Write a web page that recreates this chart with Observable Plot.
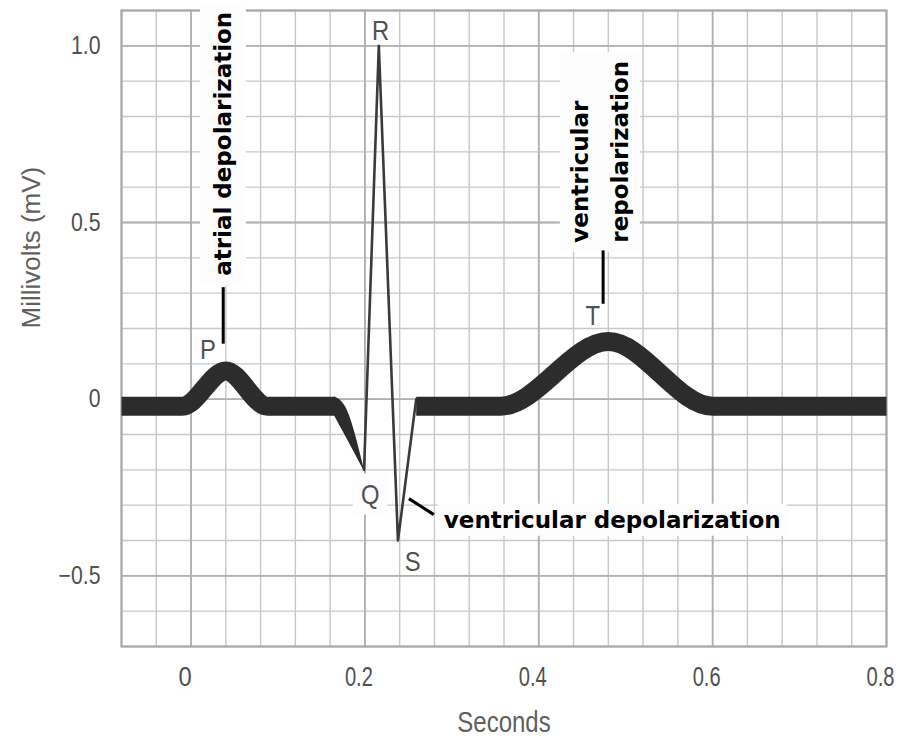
<!DOCTYPE html>
<html>
<head>
<meta charset="utf-8">
<script src="https://cdn.jsdelivr.net/npm/d3@7"></script>
<script src="https://cdn.jsdelivr.net/npm/@observablehq/plot@0.6"></script>
<style>
  body { margin: 0; background: #ffffff; }
  #chart svg { display: block; }
</style>
</head>
<body>
<div id="chart"></div>
<script>
// ---------- data ----------
// thick trace, baseline + P wave (seconds, millivolts)
const pSegmentSeconds = [-0.08, -0.01, 0.04, 0.088, 0.165];
const pSegmentMv      = [-0.02, -0.02, 0.08, -0.02, -0.02];
// tapering descent into Q (upper and lower edge of the band)
const qTaperSeconds = [0.165, 0.178, 0.199];
const qTaperUpperMv = [0.007, -0.023, -0.197];
const qTaperLowerMv = [-0.047, -0.106, -0.203];
// thin QRS complex
const qrsSeconds = [0.199, 0.216, 0.238, 0.259];
const qrsMv      = [-0.20, 1.00, -0.40, 0.00];
// thick trace, baseline + T wave
const tSegmentSeconds = [0.259, 0.356, 0.48, 0.60, 0.80];
const tSegmentMv      = [-0.02, -0.02, 0.163, -0.02, -0.02];

// wave letters
const waveLetters   = ["P", "Q", "R", "S", "T"];
const letterSeconds = [0.0195, 0.206, 0.218, 0.255, 0.462];
const letterMv      = [0.138, -0.27, 1.041, -0.46, 0.236];

// callouts
const calloutTexts   = ["atrial depolarization", "ventricular", "repolarization", "ventricular depolarization"];
const calloutSeconds = [0.0374, 0.448, 0.494, 0.2908];
const calloutMv      = [0.349, 0.443, 0.443, -0.343];
const calloutRotate  = [-90, -90, -90, 0];

// leader lines
const leaderX1 = [0.037, 0.474, 0.2506];
const leaderY1 = [0.317, 0.421, -0.2815];
const leaderX2 = [0.037, 0.474, 0.2793];
const leaderY2 = [0.157, 0.270, -0.3268];

// axes
const xTickValues = [0, 0.2, 0.4, 0.6, 0.8];
const xTickLabels = ["0", "0.2", "0.4", "0.6", "0.8"];
const yTickValues = [1.0, 0.5, 0, -0.5];
const yTickLabels = ["1.0", "0.5", "0", "\u22120.5"];
const xTitle = "Seconds";
const yTitle = "Millivolts (mV)";

// ---------- tables built from the arrays ----------
const pSegment = pSegmentSeconds.map((t, i) => ({t, mv: pSegmentMv[i]}));
const tSegment = tSegmentSeconds.map((t, i) => ({t, mv: tSegmentMv[i]}));
const qTaper = qTaperSeconds.map((t, i) => ({t, hi: qTaperUpperMv[i], lo: qTaperLowerMv[i]}));
const qrs = qrsSeconds.map((t, i) => ({t, mv: qrsMv[i]}));
const letters = waveLetters.map((s, i) => ({s, t: letterSeconds[i], mv: letterMv[i]}));
const callouts = calloutTexts.map((s, i) => ({s, t: calloutSeconds[i], mv: calloutMv[i], r: calloutRotate[i]}));
const leaders = leaderX1.map((x1, i) => ({x1, y1: leaderY1[i], x2: leaderX2[i], y2: leaderY2[i]}));

const minorX = d3.range(-8, 81, 4).map(d => d / 100);
const majorX = [0, 0.2, 0.4, 0.6];
const minorY = d3.range(-7, 12, 1).map(d => d / 10);
const majorY = [-0.5, 0, 0.5, 1.0];

const grayFont = "'Liberation Sans', Arial, Helvetica, sans-serif";
const boldFont = "'DejaVu Sans', Verdana, sans-serif";
const trace = "#2c2c2c";

const plot = Plot.plot({
  width: 906,
  height: 737,
  marginLeft: 121,
  marginRight: 20,
  marginTop: 10,
  marginBottom: 91,
  x: {domain: [-0.08, 0.8], axis: null},
  y: {domain: [-0.7, 1.1], axis: null},
  marks: [
    Plot.ruleX(minorX, {stroke: "#c8c8c8", strokeWidth: 1.4}),
    Plot.ruleY(minorY, {stroke: "#c8c8c8", strokeWidth: 1.4}),
    Plot.ruleX(majorX, {stroke: "#b0b0b0", strokeWidth: 1.8}),
    Plot.ruleY(majorY, {stroke: "#b0b0b0", strokeWidth: 1.8}),
    Plot.frame({stroke: "#a8a8a8", strokeWidth: 2.2}),
    // thick trace
    Plot.line(pSegment, {x: "t", y: "mv", stroke: trace, strokeWidth: 19, curve: "monotone-x", strokeLinecap: "butt", strokeLinejoin: "round"}),
    Plot.areaY(qTaper, {x: "t", y1: "lo", y2: "hi", fill: trace, curve: "monotone-x"}),
    Plot.line(qrs, {x: "t", y: "mv", stroke: "#3a3a3a", strokeWidth: 2.6, strokeLinejoin: "round"}),
    Plot.line(tSegment, {x: "t", y: "mv", stroke: trace, strokeWidth: 19, curve: "monotone-x", strokeLinecap: "butt", strokeLinejoin: "round"}),
    // leaders
    Plot.link(leaders, {x1: "x1", y1: "y1", x2: "x2", y2: "y2", stroke: "#000", strokeWidth: 3}),
    // letters
    Plot.text(letters, {x: "t", y: "mv", text: "s", fill: "#505050", fontSize: 28, fontFamily: grayFont}),
    // callouts
    Plot.text(callouts, {x: "t", y: "mv", text: "s", rotate: "r", textAnchor: "start", lineAnchor: "middle", fill: "#000", fontSize: 23, fontWeight: "bold", fontFamily: boldFont}),
    // tick labels
    Plot.text(xTickValues, {x: d => d, text: (d, i) => xTickLabels[i], frameAnchor: "bottom", lineAnchor: "middle", dy: 31, dx: -6, fill: "#505050", fontSize: 28, fontFamily: grayFont}),
    Plot.text(yTickValues, {y: d => d, text: (d, i) => yTickLabels[i], frameAnchor: "left", dx: -21, textAnchor: "end", fill: "#505050", fontSize: 25, fontFamily: grayFont}),
    // axis titles
    Plot.text([xTitle], {frameAnchor: "bottom", lineAnchor: "middle", dy: 76, fill: "#606060", fontSize: 30, fontFamily: grayFont}),
    Plot.text([yTitle], {frameAnchor: "left", dx: -90, rotate: -90, fill: "#606060", fontSize: 26, fontFamily: grayFont})
  ]
});

document.getElementById("chart").appendChild(plot);

const texts = Array.from(plot.querySelectorAll("text"));

// the gray Helvetica of the figure is a narrow cut: condense those labels
const condense = new Map([
  ...xTickLabels.map(s => [s, 0.72]),
  ...yTickLabels.map(s => [s, 0.85]),
  ...waveLetters.map(s => [s, 0.85]),
  [xTitle, 0.8]
]);
for (const el of texts) {
  const k = condense.get(el.textContent);
  if (!k) continue;
  const len = el.getComputedTextLength();
  el.setAttribute("textLength", (len * k).toFixed(1));
  el.setAttribute("lengthAdjust", "spacingAndGlyphs");
}

// white label boxes behind selected annotations (sized from the rendered text)
const boxGroups = [
  {labels: ["atrial depolarization"], padX: 10, padY: 10},
  {labels: ["ventricular", "repolarization"], padX: 7, padY: 9},
  {labels: ["ventricular depolarization"], padX: 6, padY: 3},
  {labels: ["Q"], padX: 8, padY: 5}
];
const svgRect = plot.getBoundingClientRect();
const boxLayer = document.createElementNS("http://www.w3.org/2000/svg", "g");
for (const group of boxGroups) {
  const els = texts.filter(t => group.labels.includes(t.textContent));
  if (!els.length) continue;
  let x0 = Infinity, y0 = Infinity, x1 = -Infinity, y1 = -Infinity;
  for (const el of els) {
    const r = el.getBoundingClientRect();
    x0 = Math.min(x0, r.left - svgRect.left); y0 = Math.min(y0, r.top - svgRect.top);
    x1 = Math.max(x1, r.right - svgRect.left); y1 = Math.max(y1, r.bottom - svgRect.top);
  }
  const rect = document.createElementNS("http://www.w3.org/2000/svg", "rect");
  rect.setAttribute("x", x0 - group.padX);
  rect.setAttribute("y", y0 - group.padY);
  rect.setAttribute("width", x1 - x0 + 2 * group.padX);
  rect.setAttribute("height", y1 - y0 + 2 * group.padY);
  rect.setAttribute("fill", "#fdfdfd");
  boxLayer.appendChild(rect);
}
const frameEl = plot.querySelector('[aria-label="frame"]');
if (frameEl) frameEl.after(boxLayer);
</script>
</body>
</html>
